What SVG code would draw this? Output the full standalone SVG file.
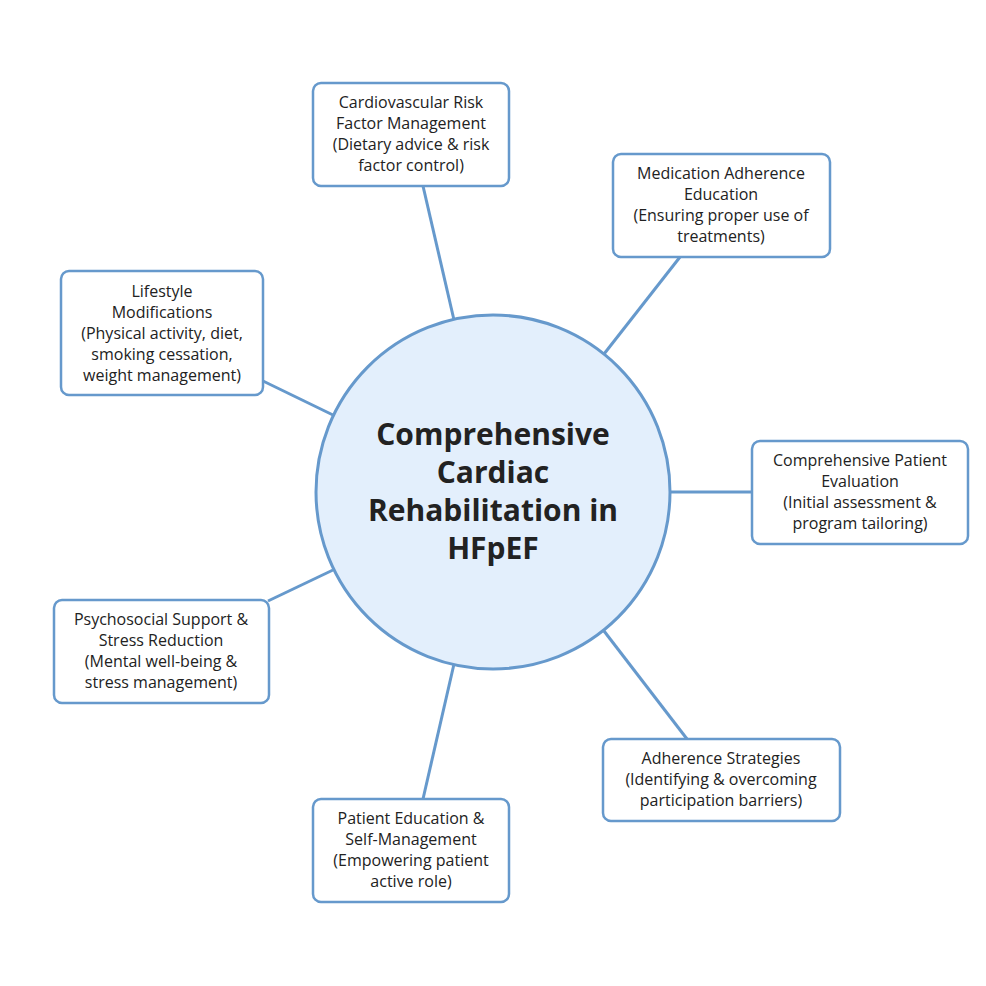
<svg xmlns="http://www.w3.org/2000/svg" width="986" height="986" viewBox="0 0 986 986">
<style>
.b{fill:#fff;stroke:#6699cc;stroke-width:2.5}
.t{font-family:"Open Sans","Noto Sans",sans-serif;font-size:16px;fill:#222;text-anchor:middle}
.h{font-family:"Open Sans","Noto Sans",sans-serif;font-size:30px;font-weight:bold;fill:#222;text-anchor:middle}
.c line{stroke:#6699cc;stroke-width:3}
</style>
<rect width="986" height="986" fill="#fff"/>
<g class="c" id="connectors">
<line x1="423" y1="186" x2="454" y2="320"/>
<line x1="680" y1="257" x2="604" y2="354"/>
<line x1="263" y1="381" x2="333" y2="415"/>
<line x1="752" y1="492" x2="670" y2="492"/>
<line x1="268" y1="601" x2="333" y2="570"/>
<line x1="687" y1="739" x2="604" y2="631"/>
<line x1="423" y1="799" x2="454" y2="664"/>
</g>
<g id="center">
<circle cx="493" cy="492" r="177" fill="#e3effc" stroke="#6699cc" stroke-width="3"/>
<text class="h" x="493" y="445">Comprehensive</text>
<text class="h" x="493" y="483">Cardiac</text>
<text class="h" x="493" y="521">Rehabilitation in</text>
<text class="h" x="493" y="559">HFpEF</text>
</g>
<g id="n1"><rect class="b" x="313" y="83" width="196" height="103" rx="8"/>
<text class="t" x="411" y="108">Cardiovascular Risk</text><text class="t" x="411" y="129">Factor Management</text><text class="t" x="411" y="150">(Dietary advice &amp; risk</text><text class="t" x="411" y="171">factor control)</text></g>
<g id="n2"><rect class="b" x="613" y="154" width="217" height="103" rx="8"/>
<text class="t" x="721" y="179">Medication Adherence</text><text class="t" x="721" y="200">Education</text><text class="t" x="721" y="221">(Ensuring proper use of</text><text class="t" x="721" y="242">treatments)</text></g>
<g id="n3"><rect class="b" x="61" y="271" width="202" height="124" rx="8"/>
<text class="t" x="162" y="297">Lifestyle</text><text class="t" x="162" y="318">Modifications</text><text class="t" x="162" y="339">(Physical activity, diet,</text><text class="t" x="162" y="360">smoking cessation,</text><text class="t" x="162" y="381">weight management)</text></g>
<g id="n4"><rect class="b" x="752" y="441" width="216" height="103" rx="8"/>
<text class="t" x="860" y="466">Comprehensive Patient</text><text class="t" x="860" y="487">Evaluation</text><text class="t" x="860" y="508">(Initial assessment &amp;</text><text class="t" x="860" y="529">program tailoring)</text></g>
<g id="n5"><rect class="b" x="54" y="600" width="215" height="103" rx="8"/>
<text class="t" x="161" y="625">Psychosocial Support &amp;</text><text class="t" x="161" y="646">Stress Reduction</text><text class="t" x="161" y="667">(Mental well-being &amp;</text><text class="t" x="161" y="688">stress management)</text></g>
<g id="n6"><rect class="b" x="603" y="739" width="237" height="82" rx="8"/>
<text class="t" x="721" y="764">Adherence Strategies</text><text class="t" x="721" y="785">(Identifying &amp; overcoming</text><text class="t" x="721" y="806">participation barriers)</text></g>
<g id="n7"><rect class="b" x="313" y="799" width="196" height="103" rx="8"/>
<text class="t" x="411" y="824">Patient Education &amp;</text><text class="t" x="411" y="845">Self-Management</text><text class="t" x="411" y="866">(Empowering patient</text><text class="t" x="411" y="887">active role)</text></g>
</svg>
